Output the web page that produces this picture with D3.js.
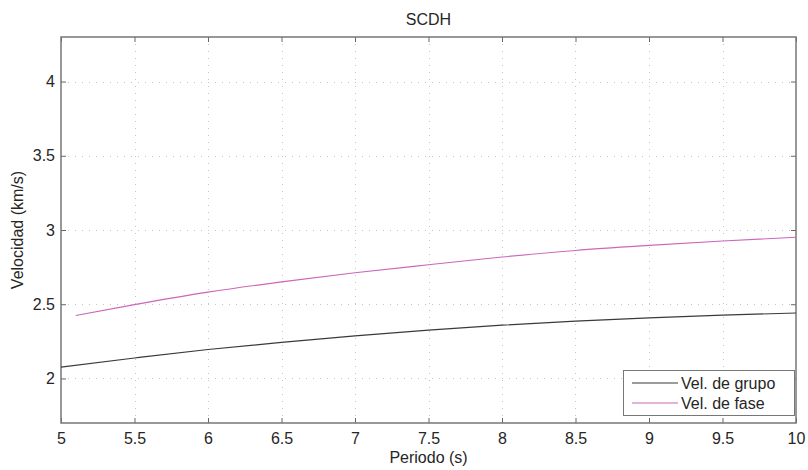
<!DOCTYPE html>
<html><head><meta charset="utf-8">
<script src="https://cdn.jsdelivr.net/npm/d3@7"></script>
<style>body{margin:0;background:#fff;}svg{display:block;font-family:"Liberation Sans",Arial,sans-serif;}</style>
</head><body>
<svg id="c" width="808" height="470"></svg>
<script>
const periodGroup = [5, 5.5, 6, 6.5, 7, 7.5, 8, 8.5, 9, 9.5, 10];
const velGroup = [2.077, 2.138, 2.195, 2.243, 2.287, 2.325, 2.359, 2.386, 2.408, 2.426, 2.441];
const periodPhase = [5.1, 5.5, 6, 6.5, 7, 7.5, 8, 8.5, 9, 9.5, 10];
const velPhase = [2.424, 2.497, 2.581, 2.651, 2.712, 2.766, 2.818, 2.862, 2.896, 2.926, 2.951];
const xTicks = [5, 5.5, 6, 6.5, 7, 7.5, 8, 8.5, 9, 9.5, 10];
const yTicks = [2, 2.5, 3, 3.5, 4];
const seriesNames = ["Vel. de grupo", "Vel. de fase"];
const colors = ["#3a3a3a", "#cc66bb"];

const L = 61, R = 796, T = 37, B = 423;
const FS = "16px";
const svg = d3.select("#c");
const x = d3.scaleLinear().domain([5, 10]).range([L, R]);
const y = d3.scaleLinear().domain([1.7, 4.3]).range([B, T]);

// grid
const g = svg.append("g");
g.selectAll(".gx").data(xTicks.slice(1, -1)).join("line")
  .attr("x1", d => Math.round(x(d)) + 0.5).attr("x2", d => Math.round(x(d)) + 0.5).attr("y1", T).attr("y2", B)
  .attr("stroke", "#c4c4c4").attr("stroke-width", 1).attr("stroke-dasharray", "1,6");
g.selectAll(".gy").data(yTicks).join("line")
  .attr("y1", d => Math.round(y(d)) + 0.5).attr("y2", d => Math.round(y(d)) + 0.5).attr("x1", L).attr("x2", R)
  .attr("stroke", "#c4c4c4").attr("stroke-width", 1).attr("stroke-dasharray", "1,6");

// axes (ticks inward, mirrored)
const ax = d3.axisBottom(x).tickValues(xTicks).tickSize(-5).tickPadding(10).tickFormat(d3.format("~g"));
const ay = d3.axisLeft(y).tickValues(yTicks).tickSize(-5).tickPadding(6).tickFormat(d3.format("~g"));
const gx = svg.append("g").attr("transform", `translate(0,${B})`).call(ax);
const gy = svg.append("g").attr("transform", `translate(${L},0)`).call(ay);
const gxt = svg.append("g").attr("transform", `translate(0,${T})`).call(d3.axisTop(x).tickValues(xTicks).tickSize(-5).tickFormat(""));
const gyr = svg.append("g").attr("transform", `translate(${R},0)`).call(d3.axisRight(y).tickValues(yTicks).tickSize(-5).tickFormat(""));
[gx, gy, gxt, gyr].forEach(a => {
  a.select(".domain").remove();
  a.selectAll("line").attr("stroke", "#666");
  a.selectAll("text").attr("fill", "#262626").style("font-size", FS).style("font-family", "'Liberation Sans',Arial,sans-serif");
});
svg.append("rect").attr("x", L).attr("y", T).attr("width", R - L).attr("height", B - T)
  .attr("fill", "none").attr("stroke", "#777").attr("stroke-width", 1.5);

// lines
const line = d3.line().x(d => x(d[0])).y(d => y(d[1])).curve(d3.curveMonotoneX);
svg.append("path").datum(periodGroup.map((p, i) => [p, velGroup[i]]))
  .attr("d", line).attr("fill", "none").attr("stroke", colors[0]).attr("stroke-width", 1.2);
svg.append("path").datum(periodPhase.map((p, i) => [p, velPhase[i]]))
  .attr("d", line).attr("fill", "none").attr("stroke", colors[1]).attr("stroke-width", 1.2);

// labels
svg.append("text").attr("x", (L + R) / 2).attr("y", 25).attr("text-anchor", "middle")
  .attr("fill", "#262626").style("font-size", FS).text("SCDH");
svg.append("text").attr("x", (L + R) / 2).attr("y", 463).attr("text-anchor", "middle")
  .attr("fill", "#262626").style("font-size", FS).text("Periodo (s)");
svg.append("text").attr("transform", `translate(23,${(T + B) / 2}) rotate(-90)`).attr("text-anchor", "middle")
  .attr("fill", "#262626").style("font-size", FS).text("Velocidad (km/s)");

// legend
const lg = svg.append("g");
lg.append("rect").attr("x", 623.5).attr("y", 370.5).attr("width", 171).attr("height", 45)
  .attr("fill", "#fff").attr("stroke", "#777").attr("stroke-width", 1);
seriesNames.forEach((n, i) => {
  const yy = 383 + i * 20;
  lg.append("line").attr("x1", 632).attr("x2", 678).attr("y1", yy).attr("y2", yy).attr("stroke", colors[i]).attr("stroke-width", 1.2);
  lg.append("text").attr("x", 681).attr("y", yy + 6).attr("fill", "#262626").style("font-size", FS).text(n);
});
</script>
</body></html>
